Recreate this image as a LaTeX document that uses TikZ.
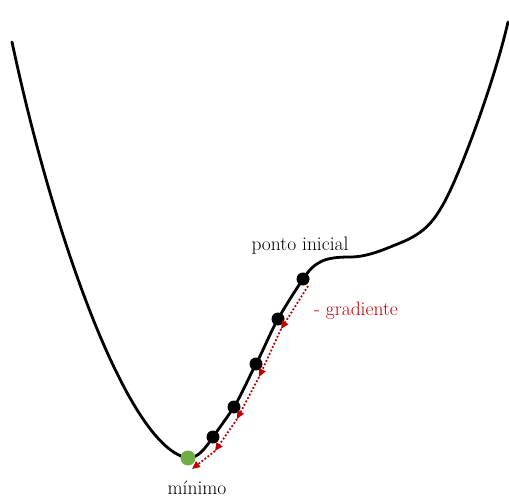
\documentclass[tikz,border=0pt]{standalone}
\usepackage{tikz}
\usetikzlibrary{arrows.meta}

\definecolor{gradred}{RGB}{192,0,0}
\definecolor{mingreen}{RGB}{112,173,71}

\tikzset{
  curve/.style={line width=2.8pt,line cap=round,line join=round},
  dot/.style={circle,fill=black,inner sep=0pt,minimum size=13pt},
  mindot/.style={circle,fill=mingreen,inner sep=0pt,minimum size=15pt},
  gradarrow/.style={gradred,line width=1.8pt,dotted,-{Triangle[length=8pt,width=7pt]}},
  lbl/.style={font=\fontsize{19.5}{23}\selectfont,inner sep=0pt}
}

\begin{document}
\begin{tikzpicture}[x=1pt,y=1pt]

\useasboundingbox (0,0) rectangle (509,499);

% Cost function
\draw[curve] (12,457) .. controls (55,255) and (130,50) .. (188,41)
  .. controls (199,41) and (206,52) .. (213,62)
  .. controls (220,72) and (226,80) .. (234,92)
  .. controls (242,105) and (248,120) .. (256,135)
  .. controls (264,150) and (270,166) .. (278,180)
  .. controls (286,194) and (295,208) .. (303,220)
  .. controls (315,238) and (325,242) .. (350,242)
  .. controls (368,242) and (385,250) .. (400,256)
  .. controls (425,266) and (434,278) .. (445,298)
  .. controls (462,330) and (495,420) .. (508,477);

% Steps of the descent
\node[dot] (p0) at (303,220) {};
\node[dot] (p1) at (278,180) {};
\node[dot] (p2) at (256,135) {};
\node[dot] (p3) at (234,92) {};
\node[dot] (p4) at (213,62) {};
\node[mindot] (p5) at (188,41) {};

% Negative gradient
\coordinate (g0) at (308,213);
\coordinate (g1) at (281,170);
\coordinate (g2) at (259,122);
\coordinate (g3) at (237,80);
\coordinate (g4) at (215,48);
\coordinate (g5) at (192,30);
\draw[gradarrow] (g0) -- (g1);
\draw[gradarrow] (g1) -- (g2);
\draw[gradarrow] (g2) -- (g3);
\draw[gradarrow] (g3) -- (g4);
\draw[gradarrow] (g4) -- (g5);

% Labels
\node[lbl] (start) at (300,253) {ponto inicial};
\node[lbl,text=gradred] (grad) at (356,188) {- gradiente};
\node[lbl] (min) at (197,11) {mínimo};

\end{tikzpicture}
\end{document}
